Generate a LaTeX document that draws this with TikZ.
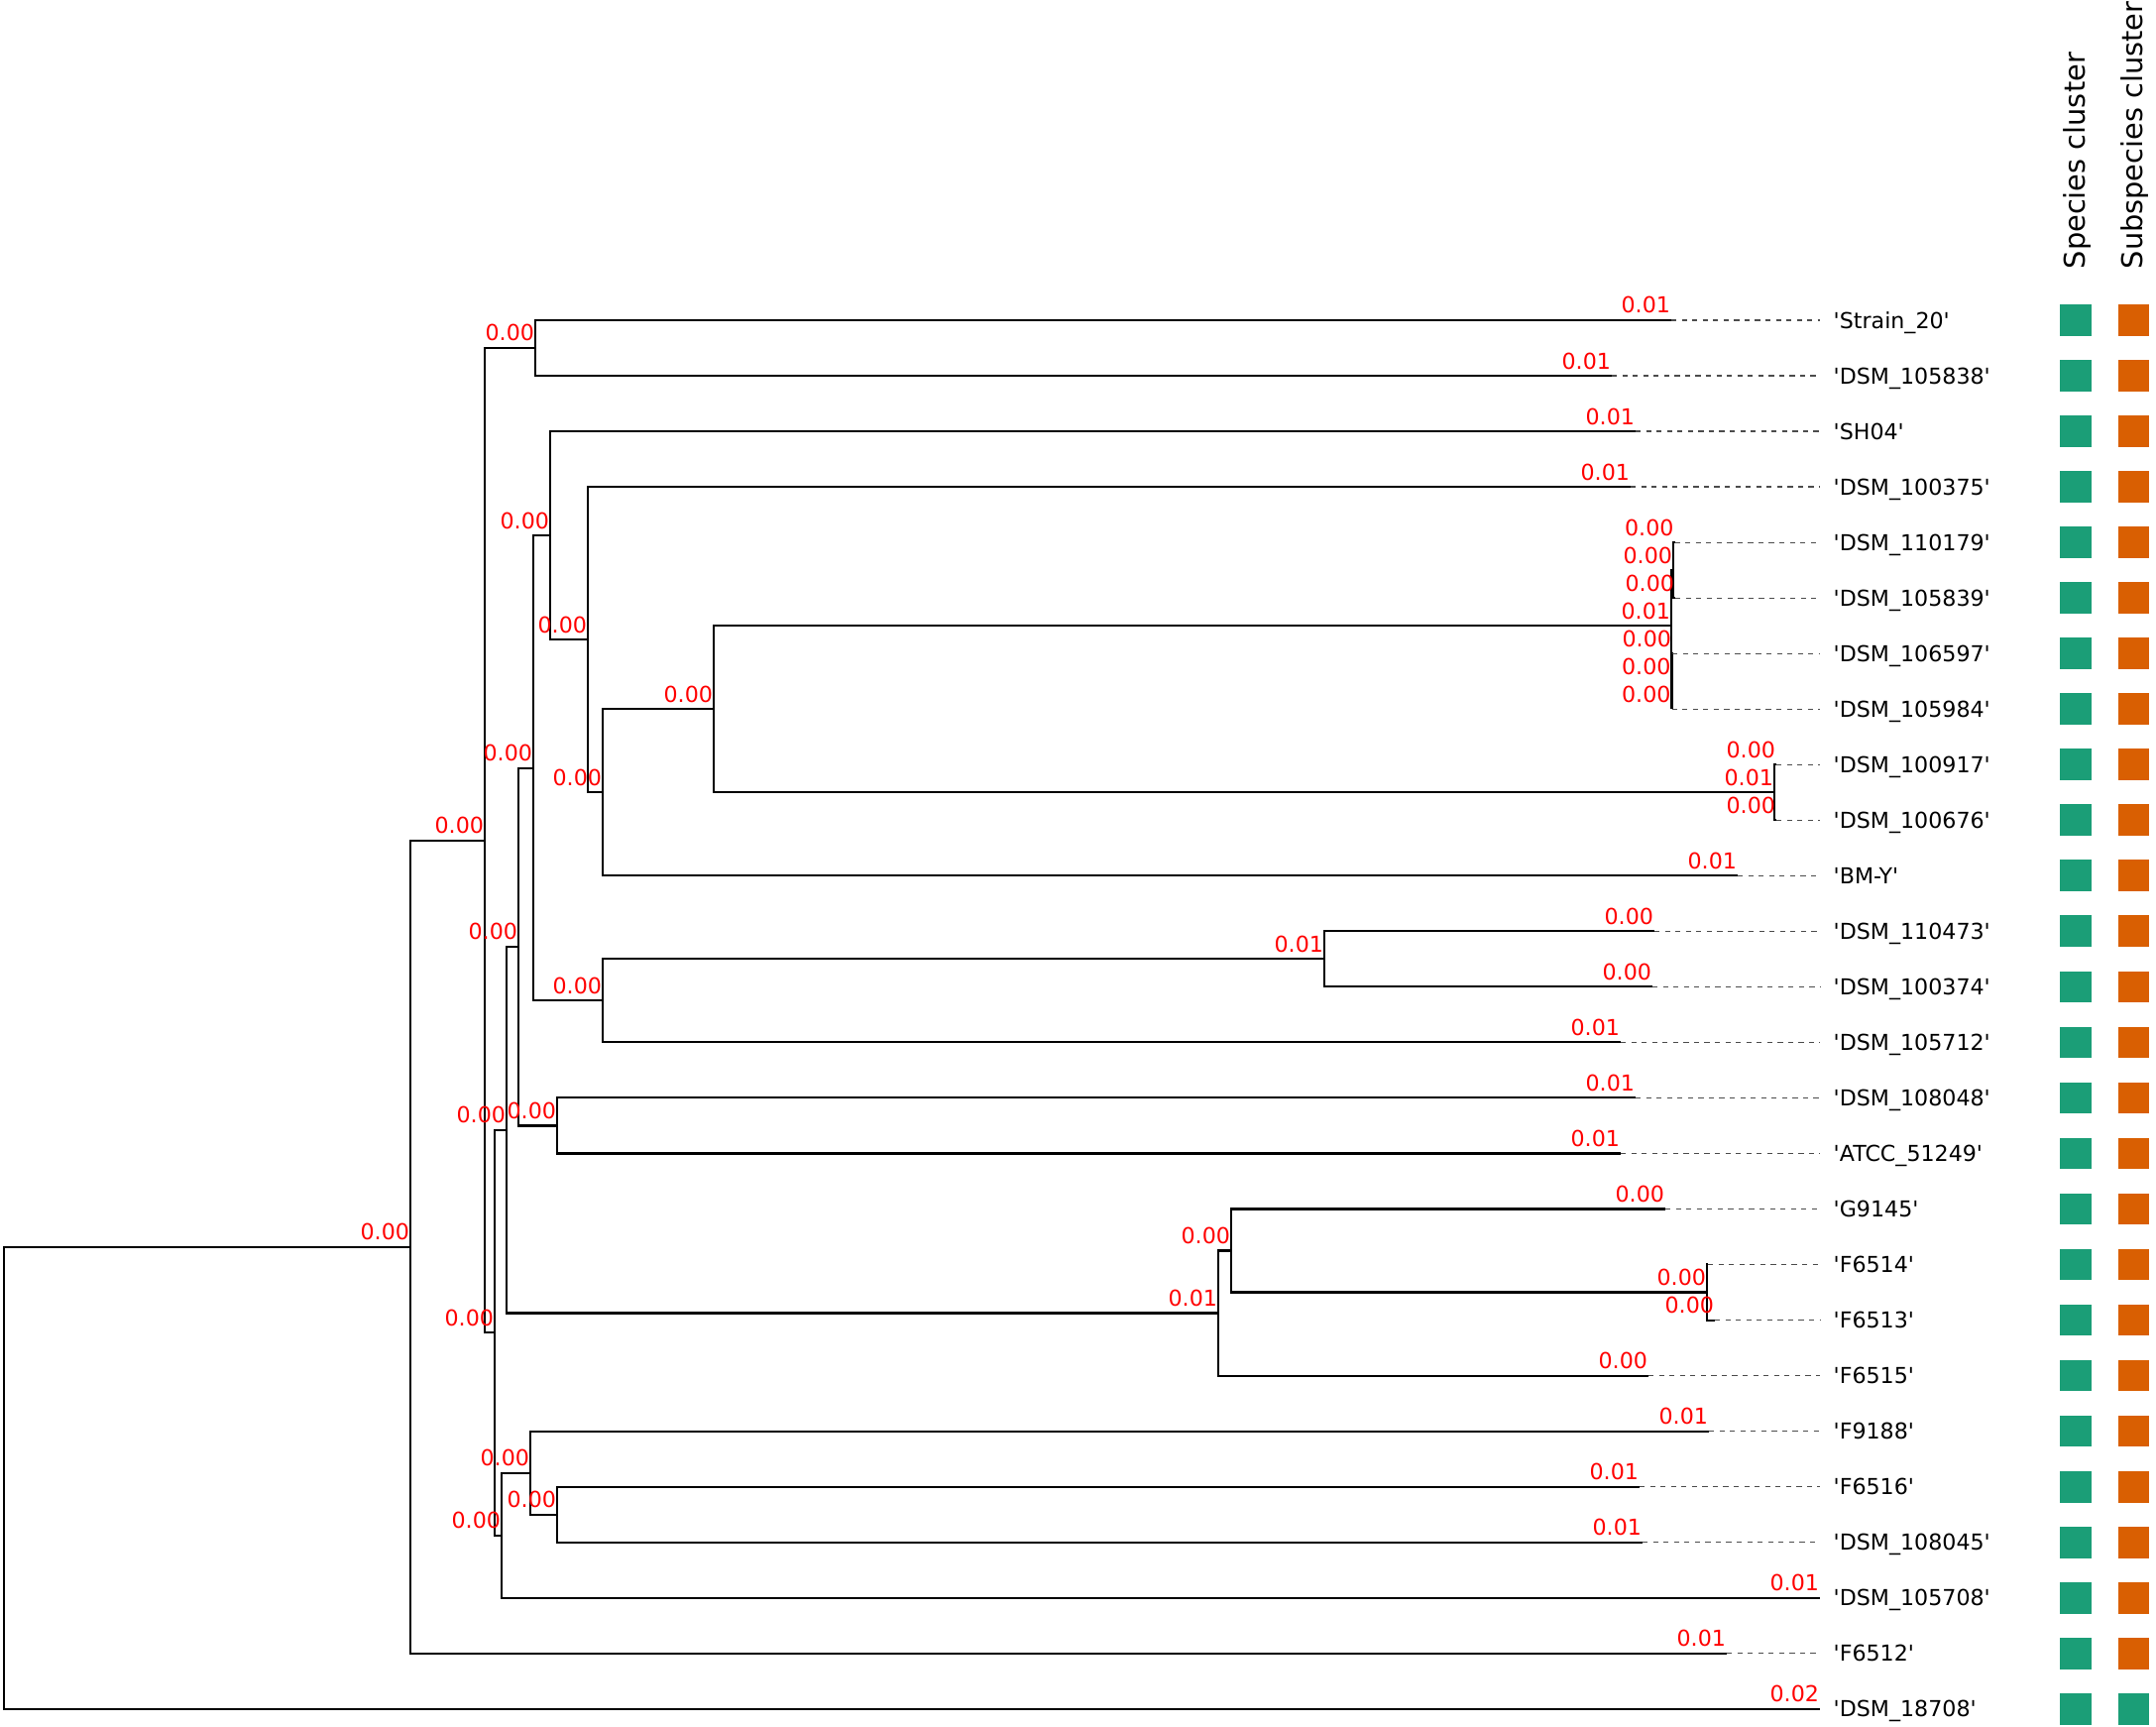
\documentclass[tikz,border=0pt]{standalone}
\usepackage{fontspec}
\setmainfont{DejaVu Sans}
\usepackage{tikz}

\definecolor{spgreen}{HTML}{1B9E77}
\definecolor{ssporange}{HTML}{D95F02}
\newcommand{\rowy}[1]{323+56.03*#1}

\begin{document}
\begin{tikzpicture}[x=0.01cm,y=-0.01cm,
    branch/.style={line width=0.6pt,line join=miter},
    guide/.style={line width=0.35pt,black!70,dash pattern=on 1.5pt off 1.5pt},
    blen/.style={anchor=base east,inner sep=0pt,yshift=2pt,text=red,font=\fontsize{6.3}{7}\selectfont},
    leaf/.style={anchor=base west,inner xsep=3.7pt,inner ysep=0pt,font=\fontsize{6.3}{7}\selectfont},
    sqbox/.style={minimum size=0.317cm,inner sep=0pt},
    coltitle/.style={rotate=90,anchor=base west,inner sep=0pt,font=\fontsize{8.2}{9}\selectfont}]
    \useasboundingbox (0,0) rectangle (2175,1742);

    % leaf tips
    \foreach \tx [count=\i from 0] in {1686,1626,1650,1645,1689.5,1690,1687,1686.5,1792,1792,
        1753,1669,1667,1635,1650,1635,1680,1723,1730,1663,1724,1654,1657,1836,1742,1836}
      \coordinate (t\i) at (\tx,{\rowy{\i}});

    % clades
    \coordinate (root) at (4,{\rowy{20.84}});
    \coordinate (cA) at (414,{\rowy{16.68}});
    \coordinate (cB) at (489,{\rowy{9.363}});
    \coordinate (cC) at (540,{\rowy{0.5}});
    \coordinate (cN) at (499,{\rowy{18.23}});
    \coordinate (cM) at (511,{\rowy{14.58}});
    \coordinate (cK) at (523,{\rowy{11.28}});
    \coordinate (cH) at (538,{\rowy{8.0625}});
    \coordinate (cD) at (555,{\rowy{3.875}});
    \coordinate (cE) at (593,{\rowy{5.75}});
    \coordinate (cF) at (608,{\rowy{8.5}});
    \coordinate (cG) at (720,{\rowy{7.0}});
    \coordinate (cW) at (1686,{\rowy{5.5}});
    \coordinate (cX) at (1688,{\rowy{4.5}});
    \coordinate (cY) at (1686.5,{\rowy{6.5}});
    \coordinate (cV) at (1790,{\rowy{8.5}});
    \coordinate (cI) at (608,{\rowy{12.25}});
    \coordinate (cJ) at (1336,{\rowy{11.5}});
    \coordinate (cL) at (562,{\rowy{14.5}});
    \coordinate (cO) at (1229,{\rowy{17.875}});
    \coordinate (cP) at (1242,{\rowy{16.75}});
    \coordinate (cZ) at (1722,{\rowy{17.5}});
    \coordinate (cS) at (506,{\rowy{21.875}});
    \coordinate (cR) at (535,{\rowy{20.75}});
    \coordinate (cQ) at (562,{\rowy{21.5}});

    % branches with their lengths
    \foreach \p/\c/\v in {root/cA/0.00, root/t25/0.02, cA/cB/0.00, cA/t24/0.01,
        cB/cC/0.00, cB/cN/0.00, cC/t0/0.01, cC/t1/0.01,
        cN/cM/0.00, cN/cS/0.00, cM/cK/0.00, cM/cO/0.01,
        cK/cH/0.00, cK/cL/0.00, cH/cD/0.00, cH/cI/0.00,
        cD/t2/0.01, cD/cE/0.00, cE/t3/0.01, cE/cF/0.00,
        cF/cG/0.00, cF/t10/0.01, cG/cW/0.01, cG/cV/0.01,
        cW/cX/0.00, cW/cY/0.00, cX/t4/0.00, cX/t5/0.00,
        cY/t6/0.00, cY/t7/0.00, cV/t8/0.00, cV/t9/0.00,
        cI/cJ/0.01, cI/t13/0.01, cJ/t11/0.00, cJ/t12/0.00,
        cL/t14/0.01, cL/t15/0.01, cO/cP/0.00, cO/t19/0.00,
        cP/t16/0.00, cP/cZ/0.00, cZ/t17/{}, cZ/t18/0.00,
        cS/cR/0.00, cS/t23/0.01, cR/t20/0.01, cR/cQ/0.00,
        cQ/t21/0.01, cQ/t22/0.01}
      \draw[branch] (\p) |- (\c) node[blen] {\v};

    % leaf names
    \foreach \name [count=\i from 0] in {Strain\_20,DSM\_105838,SH04,DSM\_100375,DSM\_110179,
        DSM\_105839,DSM\_106597,DSM\_105984,DSM\_100917,DSM\_100676,BM-Y,DSM\_110473,
        DSM\_100374,DSM\_105712,DSM\_108048,ATCC\_51249,G9145,F6514,F6513,F6515,
        F9188,F6516,DSM\_108045,DSM\_105708,F6512,DSM\_18708}
    {
      \node[leaf] (n\i) at (1836,{\rowy{\i}+8}) {\textquotesingle\name\textquotesingle};
      \draw[guide] (t\i) -- (1836,{\rowy{\i}});
    }

    % cluster columns
    \node[coltitle] (spc) at (2103,272) {Species cluster};
    \node[coltitle] (subc) at (2161.5,272) {Subspecies cluster};
    \foreach \i in {0,...,25}
      \node[sqbox,fill=spgreen] (s\i) at (2094,{\rowy{\i}}) {};
    \foreach \i in {0,...,24}
      \node[sqbox,fill=ssporange] (u\i) at (2152.5,{\rowy{\i}}) {};
    \node[sqbox,fill=spgreen] (u25) at (2152.5,{\rowy{25}}) {};
\end{tikzpicture}
\end{document}
